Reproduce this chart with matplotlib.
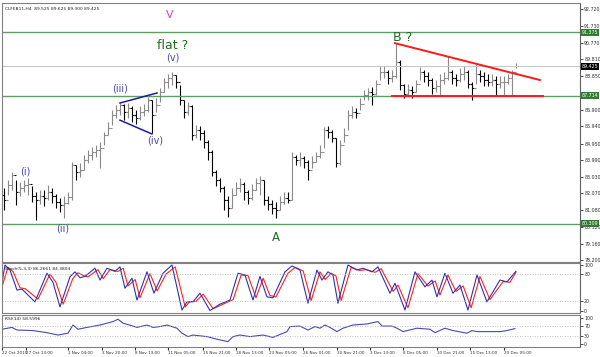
import numpy as np
import matplotlib as mpl
mpl.use('Agg')
import matplotlib.pyplot as plt
import matplotlib.transforms as mtransforms

# CLFEB11 H4 - price bars
closes = [81.68, 82.55, 83.12, 82.14, 82.37, 82.55, 82.60, 81.91, 81.68, 81.91,
          81.80, 82.14, 81.91, 81.56, 81.39, 81.51, 81.85, 83.70, 83.30, 83.41,
          83.99, 84.28, 84.45, 84.57, 84.69, 85.44, 85.84, 86.59, 86.88, 87.17,
          86.77, 87.00, 86.59, 86.42, 86.77, 86.88, 87.46, 86.59, 87.17, 87.92,
          88.50, 88.73, 88.91, 88.50, 87.46, 86.77, 87.11, 85.44, 85.73, 85.55,
          85.03, 84.45, 83.30, 82.84, 82.37, 81.68, 81.22, 81.97, 82.37, 82.60,
          82.14, 81.80, 82.26, 82.66, 82.84, 81.68, 81.45, 81.22, 81.10, 81.56,
          81.80, 81.68, 84.17, 83.99, 84.11, 83.88, 83.41, 83.88, 84.22, 84.45,
          85.73, 85.61, 85.26, 83.82, 84.86, 85.44, 86.59, 86.77, 86.71, 87.23,
          87.75, 87.92, 87.81, 88.39, 89.08, 89.08, 88.73, 88.85, 89.66, 88.33,
          87.81, 88.04, 87.92, 88.39, 89.08, 88.85, 88.62, 88.15, 88.27, 88.62,
          88.73, 89.08, 88.73, 88.62, 88.96, 89.08, 88.39, 88.15, 88.96, 88.85,
          88.62, 88.50, 88.62, 88.39, 88.50, 88.50, 88.73, 89.08, 89.425]
highs = [82.37, 82.84, 83.30, 82.84, 82.72, 82.84, 82.95, 82.49, 82.14, 82.26,
         82.26, 82.55, 82.37, 82.03, 81.80, 81.91, 82.14, 83.88, 83.70, 83.82,
         84.28, 84.57, 84.74, 84.86, 85.03, 85.61, 86.19, 86.88, 87.17, 87.29,
         87.23, 87.29, 87.11, 86.88, 87.11, 87.23, 87.63, 87.46, 87.58, 88.15,
         88.73, 88.96, 89.08, 88.91, 88.33, 87.46, 87.34, 87.17, 86.01, 85.96,
         85.73, 85.15, 84.57, 83.41, 82.95, 82.49, 81.91, 82.37, 82.72, 82.95,
         82.72, 82.26, 82.60, 82.95, 83.07, 82.84, 81.91, 81.68, 81.56, 81.91,
         82.14, 82.14, 84.45, 84.28, 84.45, 84.22, 83.99, 84.22, 84.45, 84.86,
         85.90, 85.96, 85.73, 85.26, 85.15, 85.84, 86.88, 87.11, 87.00, 87.58,
         88.04, 88.15, 88.21, 88.62, 89.43, 89.43, 89.19, 89.19, 90.75, 89.77,
         88.39, 88.39, 88.27, 88.62, 89.37, 89.19, 89.08, 88.73, 88.62, 88.96,
         89.08, 90.00, 89.19, 88.96, 89.31, 89.43, 89.19, 88.50, 89.54, 89.19,
         89.08, 88.96, 88.96, 88.85, 88.85, 88.85, 88.96, 89.19, 89.625]
lows = [81.10, 81.97, 82.26, 81.39, 81.91, 82.14, 81.97, 81.56, 80.52, 81.45,
        81.33, 81.68, 81.51, 81.22, 80.99, 80.64, 81.45, 81.68, 82.84, 83.01,
        83.41, 83.82, 83.99, 84.17, 83.53, 84.86, 85.44, 86.01, 86.42, 86.59,
        86.30, 86.42, 86.19, 86.07, 86.30, 86.54, 86.77, 85.55, 86.77, 87.34,
        87.92, 88.15, 88.33, 88.15, 87.17, 86.42, 86.59, 85.15, 85.26, 85.15,
        84.69, 83.99, 83.07, 82.49, 82.14, 81.10, 80.70, 81.22, 81.97, 82.14,
        81.68, 81.45, 81.68, 82.26, 81.97, 81.39, 81.10, 80.87, 80.64, 81.10,
        81.45, 81.51, 81.68, 83.70, 83.65, 83.53, 82.84, 83.53, 83.88, 84.11,
        84.69, 85.26, 85.03, 83.59, 83.70, 85.03, 85.73, 86.42, 86.42, 86.88,
        87.46, 87.46, 87.17, 87.75, 88.62, 88.73, 88.39, 88.50, 88.73, 88.04,
        87.58, 87.69, 87.58, 87.92, 88.62, 88.50, 88.27, 87.81, 87.92, 87.69,
        88.39, 88.62, 88.39, 88.27, 88.50, 88.62, 88.15, 87.46, 88.39, 88.50,
        88.27, 88.27, 88.27, 87.75, 88.15, 87.75, 88.39, 87.75, 89.30]
first_open = 82.00

# Stochastic(5,3,3): turning points (bar position, value)
stoch_t = [-0.5, 0.25, 1.5, 3.25, 4.5, 7.75, 10.75, 12.25, 14, 16.5, 17.75, 19, 20.25,
           22.75, 24, 25.75, 27.75, 29, 30.25, 32, 33.25, 35.75, 37.5, 39.75, 42,
           44.5, 45.75, 47.25, 49, 51.5, 54, 56.5, 58.5, 60.25, 62.25, 64, 65.75,
           67.25, 70.25, 72, 74, 76, 78.25, 79.5, 81, 82.25, 83.5, 86, 88.25, 89.75,
           92, 93.5, 96.5, 97.75, 100.25, 102.75, 105.25, 107, 108.25, 110.25,
           112.25, 114, 116, 118.25, 120.75, 124, 125.75, 128]
stoch_main = [60, 100, 89, 45, 47, 19, 82, 62, 8, 74, 85, 72, 75,
              93, 67, 93, 86, 96, 49, 71, 23, 85, 38, 82, 100,
              1, 19, 19, 38, 0, 14, 23, 82, 78, 23, 75, 30,
              28, 85, 98, 89, 16, 89, 67, 85, 78, 16, 100, 89, 93,
              85, 96, 38, 60, 1, 85, 52, 67, 30, 82,
              38, 56, 1, 78, 19, 67, 63, 86.27]
signal_t = [-0.5, 1.0, 2.3, 4.0, 5.3, 8.5, 11.5, 13.0, 14.8, 17.2, 18.5, 19.8, 21.0,
            23.5, 24.8, 26.5, 28.5, 29.8, 31.0, 32.8, 34.0, 36.5, 38.3, 40.5, 42.8,
            45.3, 46.5, 48.0, 49.8, 52.3, 54.8, 57.3, 59.3, 61.0, 63.0, 64.8, 66.5,
            68.0, 71.0, 72.8, 74.8, 76.8, 79.0, 80.3, 81.8, 83.0, 84.3, 86.8, 89.0,
            90.5, 92.8, 94.3, 97.3, 98.5, 101.0, 103.5, 106.0, 107.8, 109.0, 111.0,
            113.0, 114.8, 116.8, 119.0, 121.5, 124.8, 126.5, 128]
stoch_signal = [52, 95, 85, 50, 48, 25, 80, 62, 14, 70, 83, 77, 74,
                90, 70, 90, 86, 93, 54, 68, 28, 81, 43, 80, 96,
                8, 20, 20, 36, 4, 14, 24, 78, 77, 28, 71, 33,
                30, 82, 95, 87, 22, 85, 68, 82, 76, 22, 95, 88,
                90, 84, 92, 42, 56, 6, 81, 54, 65, 34, 78,
                42, 54, 6, 75, 24, 64, 62, 84.38]

# RSI(14): turning points
rsi_t = [-0.5, 2, 3.25, 7.25, 10.75, 13.5, 16, 17.25, 18.5, 20.75, 24, 27.25, 28.5,
         29.75, 32.25, 33.25, 35.75, 37.25, 39, 40.75, 43.25, 44.5, 46, 47.25, 50.75,
         53.25, 56, 57.25, 59, 61.5, 64.75, 67.25, 70.75, 71.5, 74, 76, 77.75, 79,
         80.25, 81.5, 83.25, 84.75, 87.25, 90.75, 92.25, 93.5, 94.5, 97, 98.25,
         99.75, 103.25, 106.5, 107.75, 110.25, 112.25, 115.75, 117, 118.25, 120.75,
         124, 125.75, 127.75]
rsi_vals = [56, 63, 53, 51, 43, 34, 41, 72, 56, 63, 72, 85, 94,
            79, 68, 63, 72, 63, 66, 72, 60, 41, 28, 34, 28,
            18, 9, 28, 34, 28, 34, 25, 47, 66, 68, 53, 66, 60,
            72, 63, 47, 60, 72, 76, 81, 85, 68, 68, 60,
            47, 60, 56, 43, 60, 51, 41, 51, 47, 47,
            47, 51, 58.6]

# horizontal levels and trend lines
level_green = [91.375, 87.714, 80.309]
last_price = 89.425
red_trend_t = [97.75, 134.0]
red_trend_p = [90.75, 88.62]
red_base_t = [97.0, 134.75]
red_base_p = [87.714, 87.714]
tri_up_t = [29.0, 38.25]
tri_up_p = [87.29, 87.87]
tri_lo_t = [29.0, 37.0]
tri_lo_p = [86.30, 85.50]

price_ticks = [92.72, 91.73, 90.77, 89.81, 88.85, 86.90, 85.94, 84.95, 83.99,
               83.03, 82.07, 81.08, 80.12, 79.16, 78.20]
date_pos = [-0.5, 5.5, 16, 24.5, 32.75, 41, 49.75, 58, 66.25, 74.75, 83.25, 91.5,
            99.75, 108.25, 116.5, 125]
date_labels = ['22 Oct 2010', '27 Oct 13:00', '1 Nov 04:00', '3 Nov 20:00',
               '8 Nov 13:00', '11 Nov 05:00', '15 Nov 21:00', '18 Nov 13:00',
               '23 Nov 05:00', '26 Nov 01:00', '30 Nov 21:00', '3 Dec 13:00',
               '8 Dec 05:00', '10 Dec 21:00', '15 Dec 13:00', '20 Dec 05:00']

plt.rcParams['font.family'] = 'DejaVu Sans'
fig = plt.figure(figsize=(6, 3.57), dpi=100)
L, W = 0.0033, 0.9633
ax = fig.add_axes([L, 0.266, W, 0.7255])
ax_st = fig.add_axes([L, 0.1232, W, 0.140], sharex=ax)
ax_rsi = fig.add_axes([L, 0.028, W, 0.0896], sharex=ax)

small = 3.4
xmin, xmax = -0.5, 144
for a in (ax, ax_st, ax_rsi):
    a.set_xlim(xmin, xmax)
    for s in a.spines.values():
        s.set_color('#808080')
        s.set_linewidth(0.8)
    a.spines['right'].set_color('#606060')
    a.yaxis.tick_right()
    a.tick_params(axis='y', labelsize=small, length=2, pad=1, colors='#303030', width=0.6)
    a.tick_params(axis='x', length=0, labelbottom=False)

# price bars
n = len(closes)
x = np.arange(n)
opens = [first_open] + closes[:-1]
for i in range(n):
    col = '#8a8a8a' if closes[i] >= opens[i] else '#000000'
    ax.vlines(x[i], lows[i], highs[i], color=col, lw=0.8)
    ax.hlines(opens[i], x[i] - 0.4, x[i], color=col, lw=0.8)
    ax.hlines(closes[i], x[i], x[i] + 0.4, color=col, lw=0.8)

for lv in level_green:
    ax.axhline(lv, color='#5e9e5e', lw=1)
ax.axhline(last_price, color='#c8c8c8', lw=0.8)
ax.plot(red_base_t, red_base_p, color='#ff1a1a', lw=1.4)
ax.plot(red_trend_t, red_trend_p, color='#ff1a1a', lw=1.4)
ax.plot(tri_up_t, tri_up_p, color='#1c1c9c', lw=1.1)
ax.plot(tri_lo_t, tri_lo_p, color='#1c1c9c', lw=1.1)

ax.set_ylim(78.10, 93.07)
ax.set_yticks(price_ticks)
ax.set_yticklabels(['%.3f' % v for v in price_ticks])

trans = mtransforms.blended_transform_factory(ax.transAxes, ax.transData)
for lv in level_green:
    ax.text(1.003, lv, '%.3f' % lv, transform=trans, fontsize=small, color='white',
            va='center', ha='left',
            bbox=dict(boxstyle='square,pad=0.2', fc='#2f7d2f', ec='none'))
ax.text(1.003, last_price, '%.3f' % last_price, transform=trans, fontsize=small,
        color='white', va='center', ha='left',
        bbox=dict(boxstyle='square,pad=0.2', fc='#000000', ec='none'))

ax.text(0.005, 0.985, 'CLFEB11,H4  89.525 89.625 89.300 89.425', transform=ax.transAxes,
        fontsize=3.2, va='top', ha='left', color='#202020')

wave_col = '#4848a8'
green = '#1e6e1e'
ax.text(41.5, 92.37, 'V', color='#d040d0', fontsize=8, ha='center', va='center')
ax.text(42.25, 90.64, 'flat ?', color=green, fontsize=9, ha='center', va='center')
ax.text(42.25, 89.95, '(v)', color=wave_col, fontsize=7, ha='center', va='center')
ax.text(29.0, 88.15, '(iii)', color=wave_col, fontsize=7, ha='center', va='center')
ax.text(37.75, 85.15, '(iv)', color=wave_col, fontsize=7, ha='center', va='center')
ax.text(5.25, 83.36, '(i)', color=wave_col, fontsize=7, ha='center', va='center')
ax.text(14.75, 80.06, '(ii)', color=wave_col, fontsize=7, ha='center', va='center')
ax.text(68.0, 79.54, 'A', color=green, fontsize=8.5, ha='center', va='center')
ax.text(99.75, 91.10, 'B ?', color=green, fontsize=9, ha='center', va='center')

# stochastic
ax_st.plot(signal_t, stoch_signal, color='#ff2020', lw=0.8)
ax_st.plot(stoch_t, stoch_main, color='#3030b0', lw=0.8)
for lv in (80, 20):
    ax_st.axhline(lv, color='#b0b0b0', lw=0.6, ls=(0, (1, 2)))
ax_st.set_ylim(-5.5, 104.4)
ax_st.set_yticks([100, 80, 20, 0])
ax_st.text(0.005, 0.93, 'Stoch(5,3,3) 86.2661 84.3804', transform=ax_st.transAxes,
           fontsize=3.2, va='top', ha='left', color='#202020')

# RSI
ax_rsi.plot(rsi_t, rsi_vals, color='#4848b8', lw=0.8)
for lv in (70, 30):
    ax_rsi.axhline(lv, color='#b0b0b0', lw=0.6, ls=(0, (1, 2)))
ax_rsi.set_ylim(-11.4, 110)
ax_rsi.set_yticks([100, 70, 30, 0])
ax_rsi.text(0.005, 0.93, 'RSI(14) 58.5996', transform=ax_rsi.transAxes,
            fontsize=3.2, va='top', ha='left', color='#202020')

ax_rsi.set_xticks(date_pos)
ax_rsi.set_xticklabels(date_labels)
ax_rsi.tick_params(axis='x', labelbottom=True, labelsize=3.0, length=2, pad=1,
                   colors='#303030', direction='out')
for t in ax_rsi.get_xticklabels():
    t.set_ha('left')

fig.savefig('out.png', dpi=100, facecolor='white')
